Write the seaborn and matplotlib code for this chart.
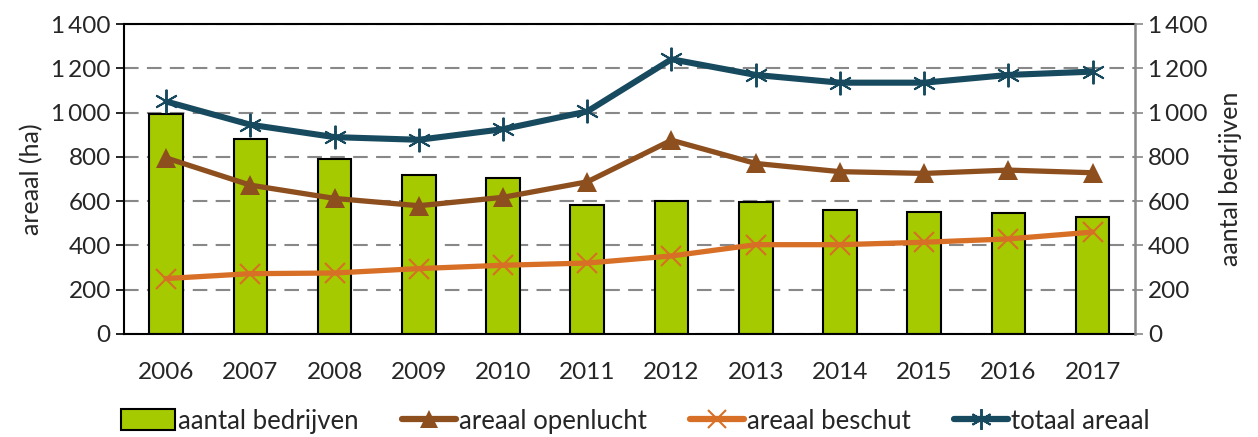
import numpy as np
import pandas as pd
import seaborn as sns
import matplotlib
matplotlib.use("Agg")
import matplotlib.pyplot as plt
from matplotlib.patches import Patch
from matplotlib.lines import Line2D
from matplotlib.ticker import FuncFormatter

# Data
years = [2006, 2007, 2008, 2009, 2010, 2011, 2012, 2013, 2014, 2015, 2016, 2017]
aantal_bedrijven = [993, 879, 789, 717, 705, 583, 600, 595, 559, 551, 546, 530]
areaal_openlucht = [795, 672, 612, 579, 617, 687, 875, 770, 733, 725, 740, 728]
areaal_beschut = [250, 272, 275, 295, 310, 320, 352, 403, 403, 414, 429, 460]
totaal_areaal = [1050, 945, 889, 877, 925, 1005, 1241, 1170, 1135, 1135, 1170, 1185]

green = "#A5CA00"
brown = "#8E4F1F"
orange = "#D86F26"
teal = "#174A5E"

sns.set_style("white")
plt.rcParams['font.family'] = ['Lato', 'DejaVu Sans']

fig, ax = plt.subplots(figsize=(12.58, 4.37), dpi=100)
fig.subplots_adjust(left=0.0986, right=0.902, top=0.945, bottom=0.236)

df = pd.DataFrame({"jaar": [str(y) for y in years], "aantal": aantal_bedrijven})
pos = np.arange(len(years))

# bars (aantal bedrijven) on main axes so lines sit on top
sns.barplot(data=df, x="jaar", y="aantal", color=green, width=0.4,
            edgecolor="black", linewidth=1.5, saturation=1, ax=ax, zorder=2)

ax2 = ax.twinx()
sns.lineplot(x=pos, y=areaal_openlucht, color=brown, linewidth=3.8, marker="^",
             markersize=14, markeredgewidth=0, ax=ax2)
sns.lineplot(x=pos, y=areaal_beschut, color=orange, linewidth=3.8, marker="x",
             markersize=14, markeredgewidth=1.5, markeredgecolor=orange, ax=ax2)
sns.lineplot(x=pos, y=totaal_areaal, color=teal, linewidth=4.4, marker=(6, 2, 0),
             markersize=17, markeredgewidth=1.4, markeredgecolor=teal, ax=ax2)

fmt = FuncFormatter(lambda v, p: f"{int(v):,}".replace(",", "\u2009"))
for a in (ax, ax2):
    a.set_ylim(0, 1400)
    a.set_yticks(range(0, 1401, 200))
    a.yaxis.set_major_formatter(fmt)
    a.set_xlim(-0.5, len(years) - 0.5)
    a.tick_params(axis="y", labelsize=17.5, length=6, width=1.2, direction="out")

ax.set_xticks(pos)
ax.set_xticklabels([str(y) for y in years])
ax.set_xticks(np.arange(len(years) + 1) - 0.5, minor=True)
ax.tick_params(axis="x", which="major", length=0, labelsize=17.5, pad=20)
ax.tick_params(axis="x", which="minor", length=7, width=1.5, direction="out")
ax.tick_params(axis="y", left=True, color="black")
ax2.tick_params(axis="y", right=True, color="#888888")

ax.yaxis.grid(True, color="#888888", linestyle=(0, (7, 4)), linewidth=1.5, zorder=0)
ax.set_axisbelow(True)

ax.set_xlabel("")
ax.set_ylabel("areaal (ha)", fontsize=18, labelpad=6)
ax2.set_ylabel("aantal bedrijven", fontsize=18, labelpad=8)

for s in ("left", "bottom", "top"):
    ax.spines[s].set_color("black")
    ax.spines[s].set_linewidth(1.5)
ax.spines["right"].set_visible(False)
ax2.spines["right"].set_color("#888888")
ax2.spines["right"].set_linewidth(1.8)
for s in ("left", "bottom", "top"):
    ax2.spines[s].set_visible(False)

handles = [
    Patch(facecolor=green, edgecolor="black", linewidth=1.5),
    Line2D([], [], color=brown, linewidth=4.5, marker="^", markersize=13, markeredgewidth=0),
    Line2D([], [], color=orange, linewidth=4.5, marker="x", markersize=13, markeredgewidth=1.5),
    Line2D([], [], color=teal, linewidth=4.5, marker=(6, 2, 0), markersize=15,
           markeredgewidth=1.4, markeredgecolor=teal),
]
labels = ["aantal bedrijven", "areaal openlucht", "areaal beschut", "totaal areaal"]
fig.legend(handles, labels, loc="lower center", bbox_to_anchor=(0.505, -0.045), ncol=4,
           frameon=False, fontsize=18.5, handlelength=2.1, handletextpad=0.1,
           columnspacing=1.7, handleheight=0.9)

fig.savefig("out.png", dpi=100)
